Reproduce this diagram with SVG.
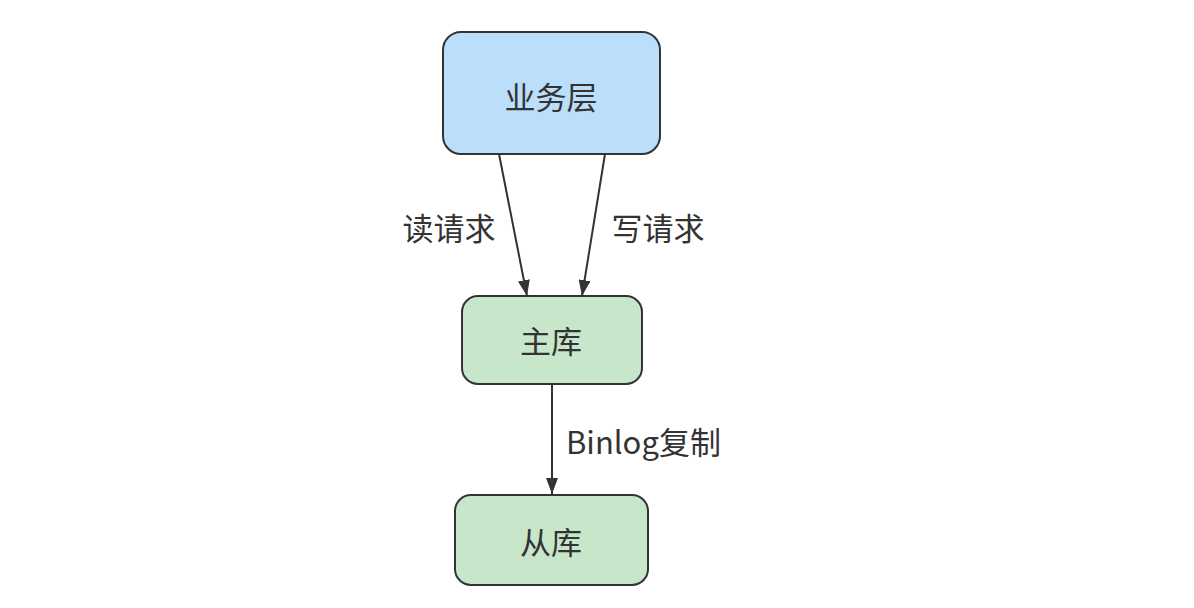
<svg xmlns="http://www.w3.org/2000/svg" width="1194" height="608" viewBox="0 0 1194 608">
<defs>
<style>
.node{stroke:#333333;stroke-width:2}
.blue{fill:#BBDEFB}
.green{fill:#C8E6C9}
.t{font-family:"Noto Sans CJK SC","Microsoft YaHei",sans-serif;font-size:31px;fill:#333333}
.c{text-anchor:middle;dominant-baseline:central}
.edge{stroke:#333333;stroke-width:2;fill:none}
</style>
<marker id="arr" viewBox="0 0 16 12" refX="16" refY="6" markerWidth="16" markerHeight="12" markerUnits="userSpaceOnUse" orient="auto">
<path d="M0,0 L16,6 L0,12 Z" fill="#333333"/>
</marker>
</defs>
<rect width="1194" height="608" fill="#ffffff"/>
<g id="connectors">
<path class="edge" d="M499,154 L527,296" marker-end="url(#arr)"/>
<path class="edge" d="M605,154 L582,296" marker-end="url(#arr)"/>
<path class="edge" d="M552,384 L552,494" marker-end="url(#arr)"/>
</g>
<g id="edge-labels">
<text class="t c" x="449" y="226">读请求</text>
<text class="t c" x="658" y="226">写请求</text>
<text class="t" x="566" y="440" dominant-baseline="central">Binlog复制</text>
</g>
<g id="node-business">
<rect class="node blue" x="443" y="32" width="217" height="122" rx="18"/>
<text class="t c" x="551" y="95">业务层</text>
</g>
<g id="node-master">
<rect class="node green" x="462" y="296" width="180" height="88" rx="16"/>
<text class="t c" x="551" y="339">主库</text>
</g>
<g id="node-slave">
<rect class="node green" x="455" y="495" width="193" height="90" rx="16"/>
<text class="t c" x="551" y="540">从库</text>
</g>
</svg>
